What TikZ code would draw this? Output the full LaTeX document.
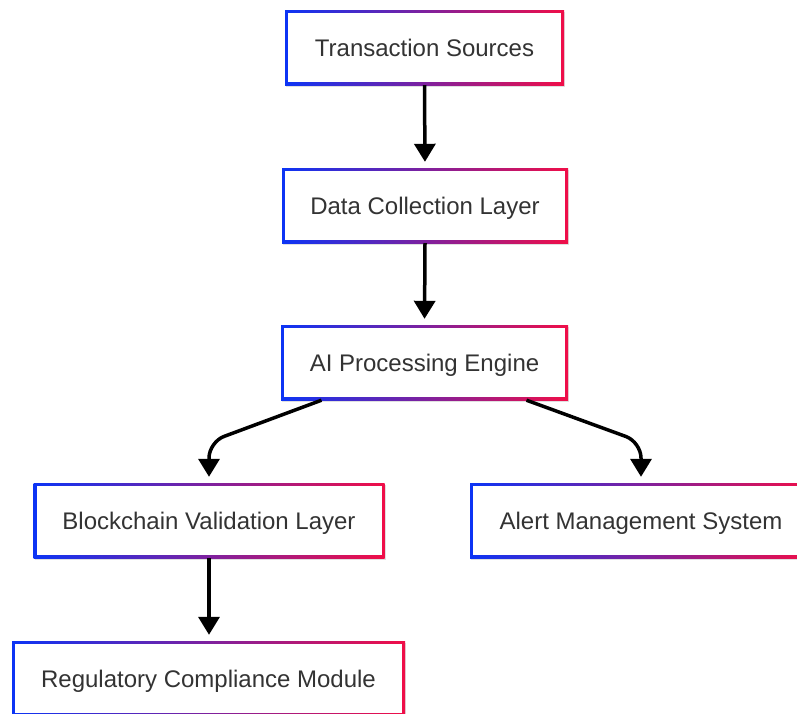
\documentclass[tikz,border=0pt]{standalone}
\usepackage{fontspec}
\setmainfont{Liberation Sans}
\usetikzlibrary{arrows.meta,shadows}

\definecolor{edgeblue}{RGB}{12,52,245}
\definecolor{edgepurple}{RGB}{122,36,168}
\definecolor{edgered}{RGB}{240,14,72}
\definecolor{labelgray}{RGB}{51,51,51}

\tikzset{
  % box with a blue-to-red frame: shaded body, white interior painted over it
  stage/.style={
    rectangle, inner sep=0pt, minimum height=75pt,
    left color=edgeblue, middle color=edgepurple, right color=edgered,
    drop shadow={shadow xshift=1pt, shadow yshift=-2pt, opacity=0.12, fill=black},
    text=labelgray, font=\fontsize{24}{28}\selectfont,
    text depth=0pt, yshift=0pt,
    path picture={
      \fill[white] ([shift={(3pt,-3pt)}]path picture bounding box.north west)
        rectangle ([shift={(-3pt,3pt)}]path picture bounding box.south east);
    }
  },
  flow/.style={draw=black, line width=3.5pt,
    -{Triangle[width=21pt,length=18pt]}, shorten >=6pt},
}

\begin{document}
\begin{tikzpicture}[x=1pt, y=-1pt]
  \clip (0,0) rectangle (797,713);
  \fill[white] (0,0) rectangle (797,713);

  \node[stage, minimum width=279pt] (src) at (424.5,47.5) {Transaction Sources};
  \node[stage, minimum width=286pt] (dcl) at (425,205.5) {Data Collection Layer};
  \node[stage, minimum width=287pt] (ai)  at (424.5,362.5) {AI Processing Engine};
  \node[stage, minimum width=351pt] (bvl) at (209,520.5) {Blockchain Validation Layer};
  \node[stage, minimum width=342pt] (ams) at (641,520.5) {Alert Management System};
  \node[stage, minimum width=393pt] (rcm) at (208.5,678.5) {Regulatory Compliance Module};

  \draw[flow] (src.south) -- (dcl.north);
  \draw[flow] (dcl.south) -- (ai.north);
  \draw[flow, rounded corners=16pt] ([xshift=-103pt]ai.south) -- (bvl.north |- 0,442) -- (bvl.north);
  \draw[flow, rounded corners=16pt] ([xshift=102pt]ai.south) -- (ams.north |- 0,442) -- (ams.north);
  \draw[flow] (bvl.south) -- (bvl.south |- rcm.north);
\end{tikzpicture}
\end{document}
